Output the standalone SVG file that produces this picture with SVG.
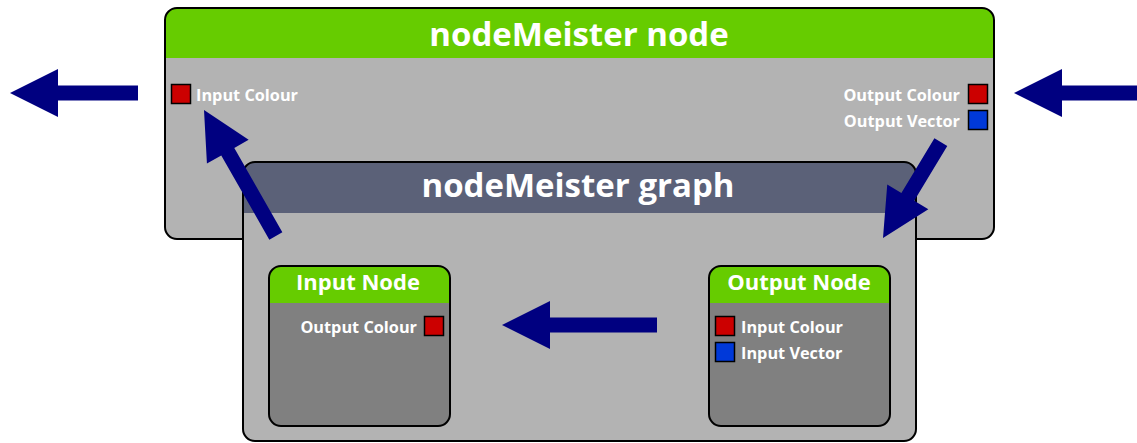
<svg xmlns="http://www.w3.org/2000/svg" width="1137" height="443" viewBox="0 0 1137 443">
<defs>
<style>
.box{stroke:#000;stroke-width:2}
.body{fill:#b3b3b3}
.inner{fill:#808080}
.green{fill:#66cc00}
.slate{fill:#5b6178}
.t{font-family:"Open Sans","Liberation Sans",sans-serif;font-weight:bold;fill:#fff}
.title{font-size:33px}
.sub{font-size:22px}
.lbl{font-size:16.3px}
.red{fill:#cc0000;stroke:#000;stroke-width:1.5}
.blue{fill:#0039d9;stroke:#000;stroke-width:1.5}
.arrow{fill:#000080}
</style>
</defs>
<g id="nodeMeister-node">
<rect x="165" y="8" width="829" height="231" rx="12" class="body"/>
<path d="M165,58 V20 A12,12 0 0 1 177,8 H982 A12,12 0 0 1 994,20 V58 Z" class="green"/>
<rect x="165" y="8" width="829" height="231" rx="12" fill="none" class="box"/>
<text x="579" y="46" text-anchor="middle" class="t title">nodeMeister node</text>
<rect x="171.5" y="84.5" width="19" height="19" class="red"/>
<text x="196" y="101" class="t lbl">Input Colour</text>
<rect x="968.5" y="84.5" width="19" height="19" class="red"/>
<text x="960" y="101" text-anchor="end" class="t lbl">Output Colour</text>
<rect x="968.5" y="110.5" width="19" height="19" class="blue"/>
<text x="960" y="127" text-anchor="end" class="t lbl">Output Vector</text>
</g>
<g id="nodeMeister-graph">
<rect x="243" y="162" width="673" height="279" rx="12" class="body"/>
<path d="M243,213 V174 A12,12 0 0 1 255,162 H904 A12,12 0 0 1 916,174 V213 Z" class="slate"/>
<rect x="243" y="162" width="673" height="279" rx="12" fill="none" class="box"/>
<text x="578" y="197" text-anchor="middle" class="t title">nodeMeister graph</text>
</g>
<g id="input-node">
<rect x="269" y="266" width="181" height="160" rx="12" class="inner"/>
<path d="M269,303 V278 A12,12 0 0 1 281,266 H438 A12,12 0 0 1 450,278 V303 Z" class="green"/>
<rect x="269" y="266" width="181" height="160" rx="12" fill="none" class="box"/>
<text x="358" y="290" text-anchor="middle" class="t sub">Input Node</text>
<rect x="424.5" y="316.5" width="19" height="19" class="red"/>
<text x="417" y="333" text-anchor="end" class="t lbl">Output Colour</text>
</g>
<g id="output-node">
<rect x="709" y="266" width="181" height="160" rx="12" class="inner"/>
<path d="M709,303 V278 A12,12 0 0 1 721,266 H878 A12,12 0 0 1 890,278 V303 Z" class="green"/>
<rect x="709" y="266" width="181" height="160" rx="12" fill="none" class="box"/>
<text x="799" y="290" text-anchor="middle" class="t sub">Output Node</text>
<rect x="715.5" y="316.5" width="19" height="19" class="red"/>
<text x="741" y="333" class="t lbl">Input Colour</text>
<rect x="715.5" y="342.5" width="19" height="19" class="blue"/>
<text x="741" y="359" class="t lbl">Input Vector</text>
</g>
<g id="connectors">
<polygon class="arrow" transform="translate(10,93) rotate(180)" points="0,0 -48,-24 -48,-7.5 -128,-7.5 -128,7.5 -48,7.5 -48,24"/>
<polygon class="arrow" transform="translate(1014,93) rotate(180)" points="0,0 -48,-24 -48,-7.5 -123,-7.5 -123,7.5 -48,7.5 -48,24"/>
<polygon class="arrow" transform="translate(502,325) rotate(180)" points="0,0 -48,-24 -48,-7.5 -155,-7.5 -155,7.5 -48,7.5 -48,24"/>
<polygon class="arrow" transform="translate(204,110) rotate(-119.7)" points="0,0 -48,-24 -48,-7.5 -145,-7.5 -145,7.5 -48,7.5 -48,24"/>
<polygon class="arrow" transform="translate(883,238) rotate(121.1)" points="0,0 -48,-24 -48,-7.5 -112,-7.5 -112,7.5 -48,7.5 -48,24"/>
</g>
</svg>
